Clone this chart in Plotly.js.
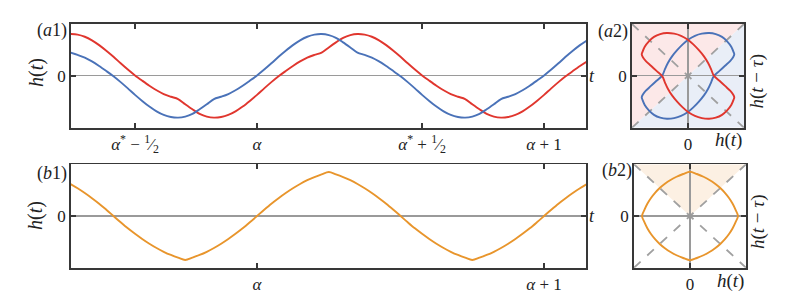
<!DOCTYPE html>
<html><head><meta charset="utf-8">
<script src="https://cdn.plot.ly/plotly-3.0.1.min.js"></script>
<style>html,body{margin:0;padding:0;background:#fff}#chart{width:793px;height:300px}</style>
</head><body><div id="chart"></div>
<script>
// time grid (in periods, alpha = 0)
const tGrid = [-0.65,-0.625,-0.6,-0.575,-0.55,-0.525,-0.5,-0.475,-0.45,-0.425,-0.4,-0.375,-0.35,-0.325,-0.3,-0.275,-0.25,-0.225,-0.2,-0.175,-0.15,-0.125,-0.1,-0.075,-0.05,-0.025,0,0.025,0.05,0.075,0.1,0.125,0.15,0.175,0.2,0.225,0.25,0.275,0.3,0.325,0.35,0.375,0.4,0.425,0.45,0.475,0.5,0.525,0.55,0.575,0.6,0.625,0.65,0.675,0.7,0.725,0.75,0.775,0.8,0.825,0.85,0.875,0.9,0.925,0.95,0.975,1,1.025,1.05,1.075,1.1,1.125,1.15];
// (a1) blue solution
const blueH = [0.555,0.50,0.435,0.345,0.235,0.115,-0.01,-0.15,-0.30,-0.455,-0.60,-0.735,-0.85,-0.935,-0.985,-1.00,-0.975,-0.91,-0.80,-0.68,-0.555,
 -0.50,-0.435,-0.345,-0.235,-0.115,0.01,0.15,0.30,0.455,0.60,0.735,0.85,0.935,0.985,1.00,0.975,0.91,0.80,0.68,0.555,
 0.50,0.435,0.345,0.235,0.115,-0.01,-0.15,-0.30,-0.455,-0.60,-0.735,-0.85,-0.935,-0.985,-1.00,-0.975,-0.91,-0.80,-0.68,-0.555,
 -0.50,-0.435,-0.345,-0.235,-0.115,0.01,0.15,0.30,0.455,0.60,0.735,0.85];
// (a1) red solution
const redH = [1.00,0.985,0.935,0.85,0.735,0.60,0.455,0.30,0.15,0.01,-0.115,-0.235,-0.345,-0.435,-0.50,-0.555,
 -0.68,-0.80,-0.91,-0.975,-1.00,-0.985,-0.935,-0.85,-0.735,-0.60,-0.455,-0.30,-0.15,-0.01,0.115,0.235,0.345,0.435,0.50,0.555,
 0.68,0.80,0.91,0.975,1.00,0.985,0.935,0.85,0.735,0.60,0.455,0.30,0.15,0.01,-0.115,-0.235,-0.345,-0.435,-0.50,-0.555,
 -0.68,-0.80,-0.91,-0.975,-1.00,-0.985,-0.935,-0.85,-0.735,-0.60,-0.455,-0.30,-0.15,-0.01,0.115,0.235,0.345];
// (b1) orange solution
const orangeH = [0.728,0.631,0.523,0.406,0.281,0.143,0,-0.143,-0.281,-0.406,-0.523,-0.631,-0.728,-0.813,-0.886,-0.948,-1.00,
 -0.948,-0.886,-0.813,-0.728,-0.631,-0.523,-0.406,-0.281,-0.143,0,0.143,0.281,0.406,0.523,0.631,0.728,0.813,0.886,0.948,1.00,
 0.948,0.886,0.813,0.728,0.631,0.523,0.406,0.281,0.143,0,-0.143,-0.281,-0.406,-0.523,-0.631,-0.728,-0.813,-0.886,-0.948,-1.00,
 -0.948,-0.886,-0.813,-0.728,-0.631,-0.523,-0.406,-0.281,-0.143,0,0.143,0.281,0.406,0.523,0.631,0.728];
// tick labels
const a1TickVals = [-0.425, 0, 0.575, 1];
const a1TickText = ['<i>α</i><sup>*</sup> − <sup>1</sup>⁄<sub>2</sub>', '<i>α</i>', '<i>α</i><sup>*</sup> + <sup>1</sup>⁄<sub>2</sub>', '<i>α</i> + 1'];
const b1TickVals = [0, 1];
const b1TickText = ['<i>α</i>', '<i>α</i> + 1'];
// phase-portrait lags (in periods) and one period of samples
const blueLag = 0.15, redLag = 0.35, orangeLag = 0.25, gridStep = 0.025, periodSamples = 41;

function loop(h, lag){
  const k = Math.round(lag/gridStep), xs=[], ys=[];
  for(let i=0;i<periodSamples;i++){ xs.push(h[i]); ys.push(h[i+k]); }
  return {xs, ys};
}
const bl = loop(blueH, blueLag), rl = loop(redH, redLag), ol = loop(orangeH, orangeLag);

const BLUE='#4a72b8', RED='#e0362e', ORANGE='#e8952c';
const W=793, H=300;
const px = v => v/W, py = v => 1 - v/H;
const FONT = 'Liberation Serif, DejaVu Serif, serif';
const LN = c => ({color:c, width:1.9, shape:'spline', smoothing:0.9});

const traces = [
  {x:tGrid, y:redH, xaxis:'x', yaxis:'y', mode:'lines', line:LN(RED)},
  {x:tGrid, y:blueH, xaxis:'x', yaxis:'y', mode:'lines', line:LN(BLUE)},
  {x:tGrid, y:orangeH, xaxis:'x2', yaxis:'y2', mode:'lines', line:LN(ORANGE)},
  {x:bl.xs, y:bl.ys, xaxis:'x3', yaxis:'y3', mode:'lines', line:LN(BLUE)},
  {x:rl.xs, y:rl.ys, xaxis:'x3', yaxis:'y3', mode:'lines', line:LN(RED)},
  {x:ol.xs, y:ol.ys, xaxis:'x4', yaxis:'y4', mode:'lines', line:LN(ORANGE)}
];

const axBase = {showline:true, linecolor:'#383838', linewidth:1.8, mirror:'ticks', ticks:'inside', ticklen:5, tickwidth:1.5, tickcolor:'#383838', showgrid:false, tickfont:{family:FONT, size:17, color:'#222'}, fixedrange:true};
const zl = {zeroline:true, zerolinecolor:'#9a9a9a', zerolinewidth:1.2};
const nz = {zeroline:false};
const RA = 1.21, RB = 1.167;

const layout = {
  width:W, height:H, margin:{l:0,r:0,t:0,b:0}, paper_bgcolor:'#fff', plot_bgcolor:'rgba(0,0,0,0)', showlegend:false,
  font:{family:FONT, size:17, color:'#222'},
  xaxis: Object.assign({}, axBase, nz, {domain:[px(71),px(586)], range:[-0.648,1.146], anchor:'y', tickvals:a1TickVals, ticktext:a1TickText}),
  yaxis: Object.assign({}, axBase, zl, {domain:[py(127.7),py(24)], range:[-1.24,1.24], anchor:'x', tickvals:[0], ticktext:['0']}),
  xaxis2: Object.assign({}, axBase, nz, {domain:[px(71),px(586)], range:[-0.648,1.146], anchor:'y2', tickvals:b1TickVals, ticktext:b1TickText}),
  yaxis2: Object.assign({}, axBase, zl, {domain:[py(267.7),py(164.3)], range:[-1.175,1.175], anchor:'x2', tickvals:[0], ticktext:['0']}),
  xaxis3: Object.assign({}, axBase, zl, {domain:[px(632),px(744)], range:[-RA,RA], anchor:'y3', tickvals:[0], ticktext:['0']}),
  yaxis3: Object.assign({}, axBase, zl, {domain:[py(127.7),py(24)], range:[-RA,RA], anchor:'x3', tickvals:[0], ticktext:['0']}),
  xaxis4: Object.assign({}, axBase, zl, {domain:[px(634),px(746)], range:[-RB,RB], anchor:'y4', tickvals:[0], ticktext:['0']}),
  yaxis4: Object.assign({}, axBase, zl, {domain:[py(267.7),py(164.3)], range:[-RB,RB], anchor:'x4', tickvals:[0], ticktext:['0']}),
  shapes: [
    {type:'path', xref:'x3', yref:'y3', path:`M ${-RA},${-RA} L ${-RA},${RA} L ${RA},${RA} Z`, fillcolor:'#fce8e8', line:{width:0}, layer:'below'},
    {type:'path', xref:'x3', yref:'y3', path:`M ${-RA},${-RA} L ${RA},${-RA} L ${RA},${RA} Z`, fillcolor:'#e9eef7', line:{width:0}, layer:'below'},
    {type:'line', xref:'x3', yref:'y3', x0:-RA, y0:-RA, x1:RA, y1:RA, line:{color:'#a0a0a0', width:1.8, dash:'dash'}, layer:'between'},
    {type:'line', xref:'x3', yref:'y3', x0:-RA, y0:RA, x1:RA, y1:-RA, line:{color:'#a0a0a0', width:1.8, dash:'dash'}, layer:'between'},
    {type:'circle', xref:'x3', yref:'y3', x0:-0.05, y0:-0.05, x1:0.05, y1:0.05, fillcolor:'#9a9a9a', line:{width:0}, layer:'between'},
    {type:'path', xref:'x4', yref:'y4', path:`M ${-RB},${RB} L ${RB},${RB} L 0,0 Z`, fillcolor:'#fcf0e3', line:{width:0}, layer:'below'},
    {type:'line', xref:'x4', yref:'y4', x0:-RB, y0:-RB, x1:RB, y1:RB, line:{color:'#a0a0a0', width:1.8, dash:'dash'}, layer:'between'},
    {type:'line', xref:'x4', yref:'y4', x0:-RB, y0:RB, x1:RB, y1:-RB, line:{color:'#a0a0a0', width:1.8, dash:'dash'}, layer:'between'},
    {type:'circle', xref:'x4', yref:'y4', x0:-0.05, y0:-0.05, x1:0.05, y1:0.05, fillcolor:'#9a9a9a', line:{width:0}, layer:'between'}
  ],
  annotations: [
    {text:'(<i>a</i>1)', x:px(52), y:py(31), size:18},
    {text:'<i>h</i>(<i>t</i>)', x:px(36), y:py(73), textangle:-90, size:20},
    {text:'<i>t</i>', x:px(592), y:py(76), size:18},
    {text:'(<i>b</i>1)', x:px(52.5), y:py(173), size:18},
    {text:'<i>h</i>(<i>t</i>)', x:px(35), y:py(216), textangle:-90, size:20},
    {text:'<i>t</i>', x:px(592), y:py(216), size:18},
    {text:'(<i>a</i>2)', x:px(612.5), y:py(31.5), size:18},
    {text:'<i>h</i>(<i>t</i>)', x:px(728), y:py(140), size:19},
    {text:'<i>h</i>(<i>t</i> − <i>τ</i>)', x:px(756), y:py(81.5), textangle:-90, size:19},
    {text:'(<i>b</i>2)', x:px(617), y:py(171), size:18},
    {text:'<i>h</i>(<i>t</i>)', x:px(730), y:py(281), size:19},
    {text:'<i>h</i>(<i>t</i> − <i>τ</i>)', x:px(758), y:py(222), textangle:-90, size:19}
  ].map(a => ({text:a.text, x:a.x, y:a.y, xref:'paper', yref:'paper', xanchor:'center', yanchor:'middle', showarrow:false, textangle:a.textangle||0, font:{family:FONT, size:a.size, color:'#222'}}))
};

Plotly.newPlot('chart', traces, layout, {staticPlot:true, displayModeBar:false});
</script></body></html>
